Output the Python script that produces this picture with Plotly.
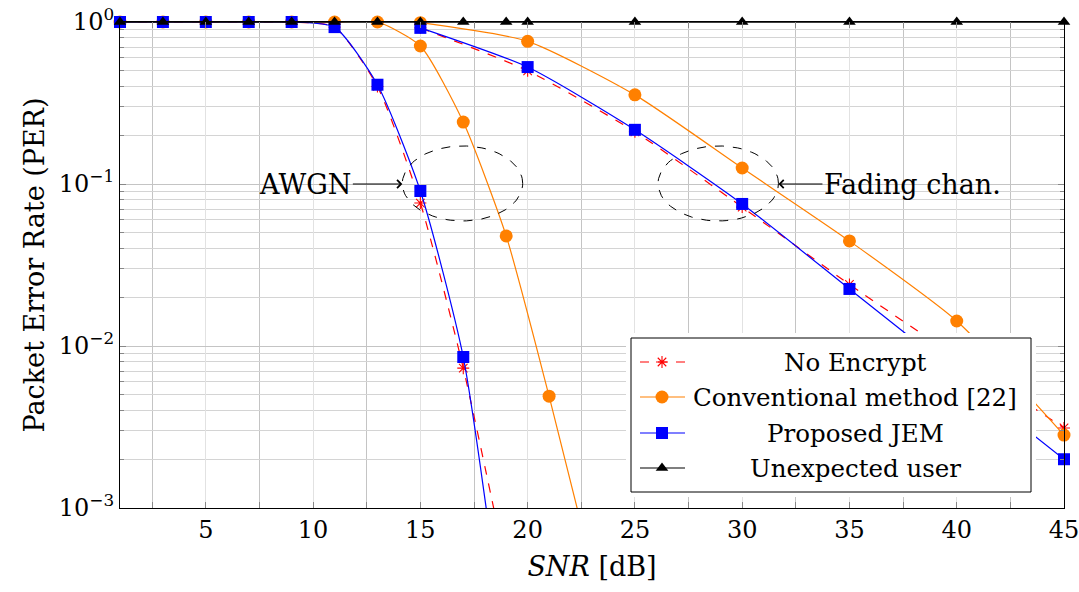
import plotly.graph_objects as go
import math

# ---------------- data ----------------
awgn_x_ne = [1, 3, 5, 7, 9, 11, 13, 15, 17, 19]
awgn_ne = [1.0, 1.0, 1.0, 1.0, 1.0, 0.93, 0.40, 0.0763, 0.0073, 0.00043]
awgn_x_jem = [1, 3, 5, 7, 9, 11, 13, 15, 17, 19]
awgn_jem = [1.0, 1.0, 1.0, 1.0, 1.0, 0.93, 0.41, 0.0905, 0.00855, 0.00012]
awgn_x_conv = [1, 3, 5, 7, 9, 11, 13, 15, 17, 19, 21, 23]
awgn_conv = [1.0, 1.0, 1.0, 1.0, 1.0, 1.0, 1.0, 0.711, 0.241, 0.0478, 0.0049, 0.00043]

fad_x = [15, 20, 25, 30, 35, 40, 45]
fad_ne = [0.92, 0.50, 0.21, 0.072, 0.024, 0.0085, 0.00312]
fad_jem = [0.92, 0.527, 0.216, 0.0753, 0.0225, 0.0067, 0.0020]
fad_conv = [0.99, 0.76, 0.355, 0.1255, 0.0445, 0.01427, 0.00282]

unexp_x = [1, 3, 5, 7, 9, 11, 13, 15, 17, 19, 20, 25, 30, 35, 40, 45]
unexp = [1.0] * len(unexp_x)

x_ticks = [5, 10, 15, 20, 25, 30, 35, 40, 45]
y_ticks = [1, 0.1, 0.01, 0.001]
y_ticklabels = ["10<sup>0</sup>", "10<sup>\u22121</sup>", "10<sup>\u22122</sup>", "10<sup>\u22123</sup>"]

legend_names = ["No Encrypt", "Conventional method [22]", "Proposed JEM", "Unexpected user"]

# ---------------- layout constants ----------------
FONT = "DejaVu Serif"
YMIN = 1e-3
W, H = 1079, 592
PL, PR, PT, PB = 120, 1064, 22, 508

styles = {
    "No Encrypt": dict(color="#FF0000", dash="dash", symbol="asterisk-open", size=10),
    "Conventional method [22]": dict(color="#FF8000", dash="solid", symbol="circle", size=13),
    "Proposed JEM": dict(color="#0000FF", dash="solid", symbol="square", size=12),
    "Unexpected user": dict(color="#000000", dash="solid", symbol="triangle-up", size=11),
}


def marker_for(st, sizes):
    if st["symbol"] == "asterisk-open":
        return dict(symbol=st["symbol"], size=sizes, color=st["color"], opacity=1,
                    line=dict(color=st["color"], width=1.1))
    return dict(symbol=st["symbol"], size=sizes, color=st["color"], opacity=1, line=dict(width=0))


def sizes(vals, s):
    return [s if v >= YMIN else 0 for v in vals]


fig = go.Figure()

series = [
    ("No Encrypt", awgn_x_ne, awgn_ne, fad_ne),
    ("Conventional method [22]", awgn_x_conv, awgn_conv, fad_conv),
    ("Proposed JEM", awgn_x_jem, awgn_jem, fad_jem),
]

for name, ax_, ay_, fy_ in series:
    st = styles[name]
    for xs, ys in [(ax_, ay_), (fad_x, fy_)]:
        fig.add_trace(go.Scatter(
            x=xs, y=ys, mode="lines+markers", name=name, showlegend=False,
            cliponaxis=False, opacity=1, hoverinfo="x+y",
            line=dict(color=st["color"], width=1.2, dash=st["dash"], shape="spline", smoothing=0.6),
            marker=marker_for(st, sizes(ys, st["size"])),
        ))

st = styles["Unexpected user"]
fig.add_trace(go.Scatter(
    x=unexp_x, y=unexp, mode="lines+markers", name="Unexpected user", showlegend=False,
    cliponaxis=False, line=dict(color="black", width=1.5),
    marker=marker_for(st, st["size"]),
))

# dashed ellipses (x in data units, y in decades)
for cx in [16.965, 28.885]:
    cy, rx, ry = -0.9965, 2.805, 0.2315
    ts = [2 * math.pi * k / 96 for k in range(97)]
    fig.add_trace(go.Scatter(
        x=[cx + rx * math.cos(t) for t in ts],
        y=[10 ** (cy + ry * math.sin(t)) for t in ts],
        mode="lines", showlegend=False, hoverinfo="skip",
        line=dict(color="black", width=1, dash="dash"),
    ))

fig.add_annotation(x=14.16, y=-1.0, xref="x", yref="y", text="AWGN", showarrow=True,
                   ax=-97, ay=0, arrowhead=4, arrowsize=1.3, arrowwidth=1.2, arrowcolor="black",
                   font=dict(family=FONT, size=27, color="black"))
fig.add_annotation(x=31.69, y=-1.0, xref="x", yref="y", text="Fading chan.", showarrow=True,
                   ax=134, ay=0, arrowhead=4, arrowsize=1.3, arrowwidth=1.2, arrowcolor="black",
                   font=dict(family=FONT, size=27, color="black"))

# ---------------- custom legend (pixel coordinates on an auxiliary subplot) ----------------
LX0, LX1, LY0, LY1 = 631, 1031, 338, 492
row_y = [362, 397, 433, 468]
sx0, sxm, sx1, text_cx = 640, 662, 685, 855
fig.add_trace(go.Scatter(
    x=[LX0, LX1, LX1, LX0, LX0], y=[LY0, LY0, LY1, LY1, LY0],
    mode="lines", fill="toself", fillcolor="white", line=dict(color="black", width=1),
    xaxis="x2", yaxis="y2", showlegend=False, hoverinfo="skip",
))
for name, ry in zip(legend_names, row_y):
    st = styles[name]
    fig.add_trace(go.Scatter(
        x=[sx0, sxm, sx1], y=[ry, ry, ry], mode="lines+markers",
        line=dict(color=st["color"], width=1.2, dash=st["dash"]),
        marker=marker_for(st, [0, st["size"], 0]),
        xaxis="x2", yaxis="y2", showlegend=False, hoverinfo="skip", cliponaxis=False,
    ))
    fig.add_annotation(x=text_cx, y=ry, xref="x2", yref="y2", text=name, showarrow=False,
                       xanchor="center", yanchor="middle",
                       font=dict(family=FONT, size=24.5, color="black"))

fig.update_layout(
    width=W, height=H,
    margin=dict(l=PL, r=W - PR, t=PT, b=H - PB),
    plot_bgcolor="white", paper_bgcolor="white",
    font=dict(family=FONT, size=22, color="black"),
    showlegend=False,
    xaxis=dict(
        range=[1, 45], tickvals=x_ticks, ticks="inside", ticklen=6, tickcolor="#888",
        showline=True, linecolor="black", linewidth=1.2, mirror="ticks", automargin=False,
        ticklabeloverflow="allow",
        showgrid=True, gridcolor="#e2e2e2", gridwidth=1,
        minor=dict(dtick=2.5, tick0=0, showgrid=True, gridcolor="#c4c4c4", ticks="inside",
                   ticklen=6, tickcolor="#888"),
        tickfont=dict(family=FONT, size=24), zeroline=False,
        title=dict(text="<i>SNR</i> [dB]", font=dict(family=FONT, size=27), standoff=14),
    ),
    yaxis=dict(
        type="log", range=[-3, 0], tickvals=y_ticks, ticktext=y_ticklabels,
        ticks="inside", ticklen=6, tickcolor="#888", automargin=False,
        ticklabeloverflow="allow",
        showline=True, linecolor="black", linewidth=1.2, mirror="ticks",
        showgrid=True, gridcolor="#c4c4c4", gridwidth=1,
        minor=dict(dtick="D1", showgrid=True, gridcolor="#d4d4d4", ticks="inside",
                   ticklen=4, tickcolor="#888"),
        tickfont=dict(family=FONT, size=24), zeroline=False,
        title=dict(text="Packet Error Rate (PER)", font=dict(family=FONT, size=27), standoff=6),
    ),
    xaxis2=dict(domain=[(626 - PL) / (PR - PL), (1036 - PL) / (PR - PL)], range=[626, 1036],
                anchor="y2", visible=False, fixedrange=True),
    yaxis2=dict(domain=[(PB - 497) / (PB - PT), (PB - 333) / (PB - PT)], range=[497, 333],
                anchor="x2", visible=False, fixedrange=True),
)

fig.write_html("out.html", config={"displayModeBar": False},
               post_script="document.body.style.margin='0';")
